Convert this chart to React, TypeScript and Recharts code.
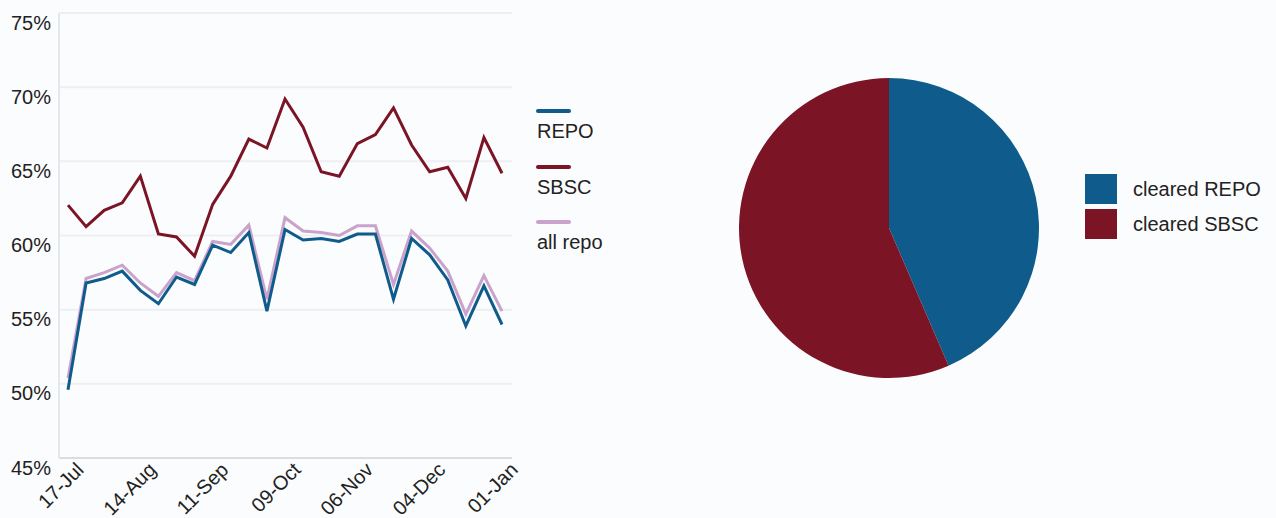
import {
  LineChart,
  Line,
  XAxis,
  YAxis,
  CartesianGrid,
  PieChart,
  Pie,
  Cell,
} from "recharts";

const weeks = [
  "17-Jul", "24-Jul", "31-Jul", "07-Aug", "14-Aug", "21-Aug", "28-Aug",
  "04-Sep", "11-Sep", "18-Sep", "25-Sep", "02-Oct", "09-Oct", "16-Oct",
  "23-Oct", "30-Oct", "06-Nov", "13-Nov", "20-Nov", "27-Nov", "04-Dec",
  "11-Dec", "18-Dec", "25-Dec", "01-Jan",
];
const repo = [
  49.6, 56.8, 57.1, 57.6, 56.3, 55.4, 57.2, 56.7, 59.35, 58.85, 60.2, 54.9,
  60.4, 59.7, 59.8, 59.6, 60.1, 60.1, 55.7, 59.8, 58.7, 57.0, 53.9, 56.6, 54.0,
];
const sbsc = [
  62.05, 60.6, 61.7, 62.2, 64.0, 60.1, 59.9, 58.6, 62.1, 64.0, 66.5, 65.9,
  69.2, 67.3, 64.3, 64.0, 66.2, 66.8, 68.6, 66.1, 64.3, 64.6, 62.5, 66.6, 64.2,
];
const allRepo = [
  50.4, 57.1, 57.5, 58.0, 56.8, 55.9, 57.5, 56.95, 59.6, 59.4, 60.7, 55.7,
  61.2, 60.3, 60.2, 60.0, 60.65, 60.65, 56.7, 60.3, 59.15, 57.6, 54.7, 57.3, 54.9,
];
const yTicks = [45, 50, 55, 60, 65, 70, 75];

const pieLabels = ["cleared REPO", "cleared SBSC"];
const pieValues = [43.5, 56.5];

const BLUE = "#0f5b8c";
const RED = "#7b1526";
const PINK = "#c9a3cb";
const TEXT = "#222222";
const FONT = "'Liberation Sans', Arial, Helvetica, sans-serif";

const lineData = weeks.map((week, i) => ({
  week,
  repo: repo[i],
  sbsc: sbsc[i],
  allRepo: allRepo[i],
}));
const pieData = pieLabels.map((name, i) => ({ name, value: pieValues[i] }));

const lineLegend = [
  { label: "REPO", color: BLUE },
  { label: "SBSC", color: RED },
  { label: "all repo", color: PINK },
];
const pieColors = [BLUE, RED];

// rotated date labels, end of text sits up-right of the tick
function XTick({ x, y, payload }: any) {
  const ax = x + 17;
  const ay = y + 13;
  return (
    <text
      x={ax}
      y={ay}
      transform={`rotate(-45 ${ax} ${ay})`}
      textAnchor="end"
      fontSize={20}
      fill={TEXT}
      fontFamily={FONT}
    >
      {payload.value}
    </text>
  );
}

function YTick({ x, y, payload }: any) {
  return (
    <text
      x={x - 8}
      y={y + 16.5}
      textAnchor="end"
      fontSize={20}
      fill={TEXT}
      fontFamily={FONT}
    >
      {payload.value}%
    </text>
  );
}

export default function App() {
  return (
    <div
      style={{
        position: "absolute",
        left: 0,
        top: 0,
        width: 1276,
        height: 518,
        background: "#fbfcfd",
        fontFamily: FONT,
        color: TEXT,
        overflow: "hidden",
      }}
    >
      <div style={{ position: "absolute", left: 0, top: 0 }}>
        <LineChart
          width={532}
          height={518}
          data={lineData}
          margin={{ top: 13, right: 20, bottom: 0, left: 0 }}
        >
          <CartesianGrid
            vertical={false}
            stroke="#eeeff2"
            strokeWidth={2}
          />
          <XAxis
            dataKey="week"
            interval={3}
            height={60}
            padding={{ left: 9, right: 10 }}
            tickLine={false}
            tickSize={0}
            tickMargin={0}
            stroke="#c8cacd"
            tick={<XTick />}
          />
          <YAxis
            domain={[45, 75]}
            ticks={yTicks}
            width={59}
            tickLine={false}
            tickSize={0}
            tickMargin={0}
            stroke="#e6e7ea"
            strokeWidth={2}
            tick={<YTick />}
          />
          <Line
            type="linear"
            dataKey="allRepo"
            stroke={PINK}
            strokeWidth={3}
            dot={false}
            isAnimationActive={false}
          />
          <Line
            type="linear"
            dataKey="repo"
            stroke={BLUE}
            strokeWidth={3}
            dot={false}
            isAnimationActive={false}
          />
          <Line
            type="linear"
            dataKey="sbsc"
            stroke={RED}
            strokeWidth={3}
            dot={false}
            isAnimationActive={false}
          />
        </LineChart>
      </div>

      {/* line legend: short stroke above each label */}
      {lineLegend.map((item, i) => (
        <div
          key={item.label}
          style={{
            position: "absolute",
            left: 536,
            top: 109 + i * 55.5,
            fontSize: 20,
            lineHeight: "24px",
          }}
        >
          <div
            style={{
              width: 35,
              height: 4,
              borderRadius: 2,
              background: item.color,
              marginBottom: 6,
            }}
          />
          <div style={{ marginLeft: 1 }}>{item.label}</div>
        </div>
      ))}

      <div style={{ position: "absolute", left: 640, top: 0 }}>
        <PieChart width={500} height={518} margin={{ top: 0, right: 0, bottom: 0, left: 0 }}>
          <Pie
            data={pieData}
            dataKey="value"
            nameKey="name"
            cx={249}
            cy={228}
            outerRadius={150}
            startAngle={90}
            endAngle={-270}
            stroke="none"
            isAnimationActive={false}
          >
            {pieData.map((d, i) => (
              <Cell key={d.name} fill={pieColors[i]} />
            ))}
          </Pie>
        </PieChart>
      </div>

      {/* pie legend */}
      {pieData.map((d, i) => (
        <div
          key={d.name}
          style={{
            position: "absolute",
            left: 1085,
            top: 174 + i * 35,
            height: 30,
            display: "flex",
            alignItems: "center",
            fontSize: 20,
          }}
        >
          <div
            style={{
              width: 32,
              height: 30,
              background: pieColors[i],
              marginRight: 16,
            }}
          />
          <span>{d.name}</span>
        </div>
      ))}
    </div>
  );
}
